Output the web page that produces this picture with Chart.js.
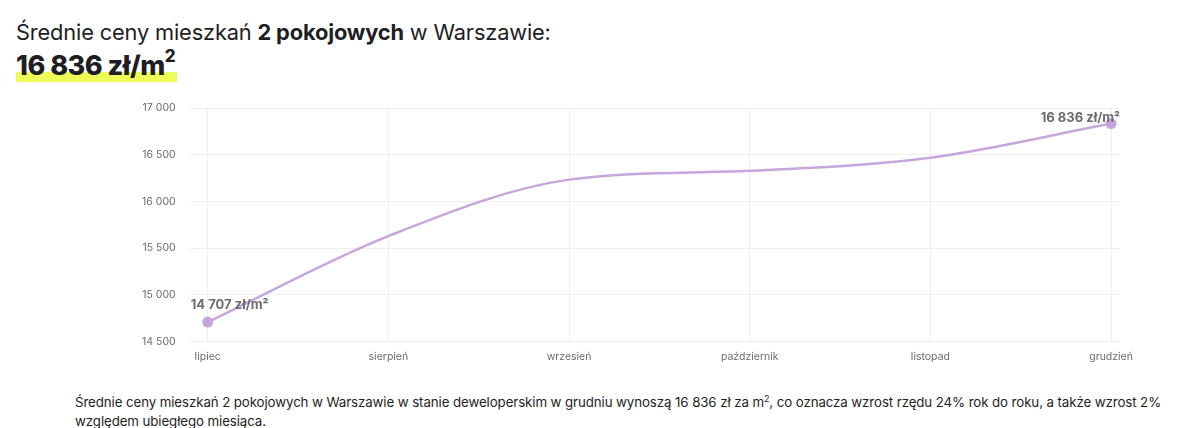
<!DOCTYPE html>
<html>
<head>
<meta charset="utf-8">
<script src="https://cdn.jsdelivr.net/npm/chart.js@4"></script>
<style>
  html,body{margin:0;padding:0;background:#fff;}
  body{width:1200px;height:428px;position:relative;font-family:Inter,"Open Sans",sans-serif;color:#1e1e24;overflow:hidden;}
  #t1{position:absolute;left:16px;top:19px;font-size:21.8px;font-weight:400;letter-spacing:-0.15px;white-space:nowrap;}
  #t1 b{font-weight:700;}
  #t2{position:absolute;left:16px;top:49px;font-size:27px;font-weight:800;letter-spacing:-0.5px;white-space:nowrap;
      background:linear-gradient(to bottom,transparent 0,transparent 23px,#eefc5a 23px,#eefc5a 35px,transparent 35px);padding-right:2px;}
  #t2 sup{font-size:17px;vertical-align:top;position:relative;top:-3px;}
  #wrap{position:absolute;left:128px;top:88px;width:1014px;height:284px;}
  #foot{position:absolute;left:75px;top:389px;width:1100px;font-size:13.3px;line-height:19px;color:#1e1e24;letter-spacing:-0.1px;}
  #foot sup{font-size:9px;}
</style>
</head>
<body>
<div id="t1">Średnie ceny mieszkań <b>2 pokojowych</b> w Warszawie:</div>
<div id="t2">16 836 zł/m<sup>2</sup></div>
<div id="wrap"><canvas id="c"></canvas></div>
<div id="foot">Średnie ceny mieszkań 2 pokojowych w Warszawie w stanie deweloperskim w grudniu wynoszą 16 836 zł za m<sup>2</sup>, co oznacza wzrost rzędu 24% rok do roku, a także wzrost 2% względem ubiegłego miesiąca.</div>
<script>
const categories = ["lipiec","sierpień","wrzesień","październik","listopad","grudzień"];
const prices = [14707, 15630, 16235, 16330, 16470, 16836];
const yTicks = [14500, 15000, 15500, 16000, 16500, 17000];

function fmt(v){ return String(Math.round(v)).replace(/\B(?=(\d{3})+(?!\d))/g, " "); }

const points = prices.map((v,i)=>({x:i,y:v}));

const labelPlugin = {
  id:'endLabels',
  afterDatasetsDraw(chart){
    const ctx = chart.ctx;
    const meta = chart.getDatasetMeta(0);
    const idxs = [0, prices.length-1];
    ctx.save();
    ctx.fillStyle = '#6b6b70';
    ctx.font = '700 13px Inter, sans-serif';
    ctx.textBaseline = 'alphabetic';
    idxs.forEach(i=>{
      const p = meta.data[i];
      const txt = fmt(prices[i]) + ' zł/m²';
      if(i===0){ ctx.textAlign='left'; ctx.fillText(txt, p.x-17, p.y-13); }
      else { ctx.textAlign='right'; ctx.fillText(txt, p.x+9, p.y-2); }
    });
    ctx.restore();
  }
};

new Chart(document.getElementById('c'), {
  type:'line',
  data:{ datasets:[{
    data:points,
    borderColor:'#c7a6dc',
    backgroundColor:'#c7a6dc',
    borderWidth:2.5,
    cubicInterpolationMode:'monotone',
    pointRadius:ctx=> (ctx.dataIndex===0||ctx.dataIndex===prices.length-1)?5.5:0,
    pointHoverRadius:0,
    pointBorderWidth:0,
    fill:false
  }]},
  options:{
    responsive:true, maintainAspectRatio:false, animation:false,
    layout:{padding:{left:0,right:0,top:6,bottom:0}},
    plugins:{legend:{display:false},tooltip:{enabled:false}},
    scales:{
      x:{
        type:'linear', min:-0.1, max:5.05,
        grid:{color:'#efeff2', drawTicks:false},
        border:{display:false},
        ticks:{stepSize:1, includeBounds:false, color:'#6b6b70', font:{size:10.5, family:'Inter'}, padding:9,
          callback:v=>categories[v]}
      },
      y:{
        min:14500, max:17000,
        afterBuildTicks:s=>{ s.ticks = yTicks.map(v=>({value:v})); },
        grid:{color:'#efeff2', drawTicks:false},
        border:{display:false},
        ticks:{color:'#6b6b70', font:{size:10.5, family:'Inter'}, padding:14, callback:v=>fmt(v)}
      }
    }
  },
  plugins:[labelPlugin]
});
</script>
</body>
</html>
